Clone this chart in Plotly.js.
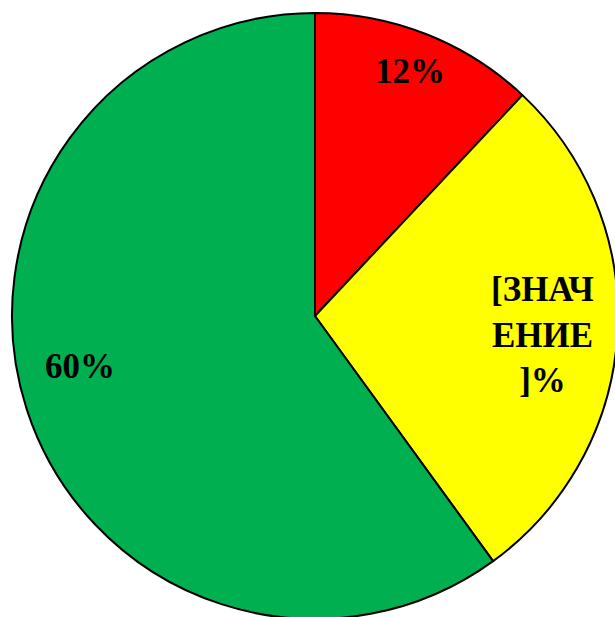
<!DOCTYPE html>
<html>
<head>
<meta charset="utf-8">
<script src="https://cdn.plot.ly/plotly-3.0.1.min.js"></script>
<style>
html,body{margin:0;padding:0;overflow:hidden;background:#fff;}
#chart{width:618px;height:620px;}
</style>
</head>
<body>
<div id="chart"></div>
<script>
const categories = ["Красный", "Жёлтый", "Зелёный"];
const values = [12, 28, 60];
const labelTexts = ["12%", "[ЗНАЧ<br>ЕНИЕ<br>]%", "60%"];
const colors = ["#FF0000", "#FFFF00", "#00B050"];

const labelPos = [
  {x: 0.657, y: 0.903},
  {x: 0.876, y: 0.468},
  {x: 0.112, y: 0.416}
];

const trace = {
  type: "pie",
  labels: categories,
  values: values,
  sort: false,
  direction: "clockwise",
  rotation: 0,
  marker: {colors: colors, line: {color: "#000000", width: 2}},
  textinfo: "none",
  hoverinfo: "label+percent",
  showlegend: false
};

const annotations = labelTexts.map((t, i) => ({
  text: t,
  x: labelPos[i].x,
  y: labelPos[i].y,
  xref: "paper",
  yref: "paper",
  showarrow: false,
  xanchor: "center",
  yanchor: "middle",
  align: "center",
  font: {family: "Liberation Serif, Times New Roman, serif", size: 35, color: "#000000", weight: "bold"}
}));

const layout = {
  width: 618,
  height: 620,
  margin: {l: 12, r: 0, t: 13, b: 1, pad: 0},
  paper_bgcolor: "#ffffff",
  plot_bgcolor: "#ffffff",
  showlegend: false,
  annotations: annotations
};

Plotly.newPlot("chart", [trace], layout, {displayModeBar: false, staticPlot: true});
</script>
</body>
</html>
